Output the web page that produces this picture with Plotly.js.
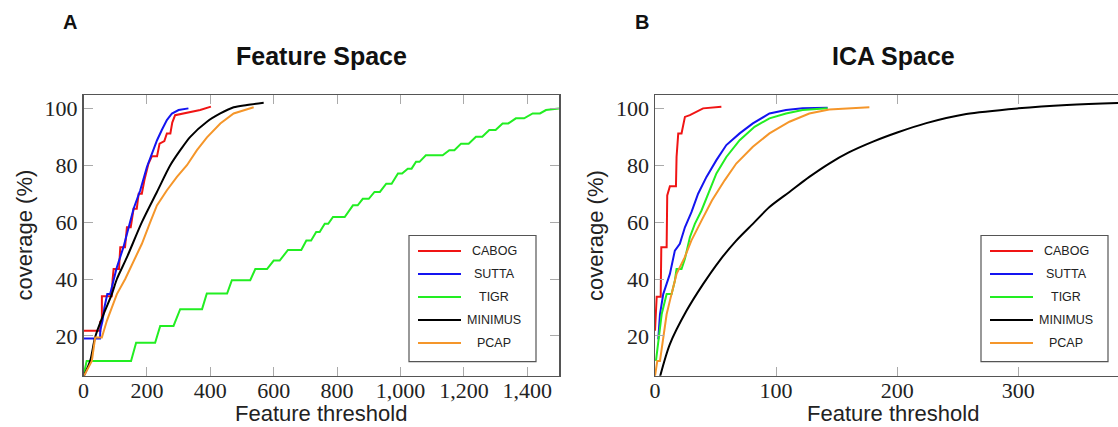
<!DOCTYPE html>
<html><head><meta charset="utf-8">
<script src="https://cdn.plot.ly/plotly-3.0.1.min.js"></script>
<style>html,body{margin:0;padding:0;overflow:hidden;background:#fff}#chart{width:1140px;height:427px}</style>
</head><body><div id="chart"></div>
<script>
// ---------- data ----------
const seriesNames = ['CABOG', 'SUTTA', 'TIGR', 'MINIMUS', 'PCAP'];
const seriesColors = ['#f01414', '#1414f0', '#22ee22', '#000000', '#f5962a'];

// Panel A: Feature Space
const cabogFeatX = [0,53,53,58,58,89,92,95,112,116,131,137,149,158,168,174,184,192,205,216,232,240,255,263,274,280,289,316,368,402];
const cabogFeatY = [21.8,21.8,25,25,33.9,33.9,40,43.5,43.5,51.2,51.2,58.2,58.2,64.7,64.7,70,70,74.7,80.6,83.2,83.2,87.6,88.5,91.2,91.2,95,97.6,98.2,99.4,100.6];
const suttaFeatX = [0,52,53,60,66,75,84,95,105,126,142,158,179,200,216,232,247,263,279,300,331];
const suttaFeatY = [19.1,19.1,22,25.3,30,34.7,34.7,40,44,51.2,58.2,64.7,71.2,79.4,84.1,88.8,92.4,95.9,98.2,99.4,100];
const tigrFeatX = [0,10,150,166,226,242,284,305,374,389,453,468,526,542,579,600,619,645,687,703,718,734,745,761,772,787,824,850,865,881,900,918,935,955,972,992,1005,1023,1035,1049,1060,1080,1133,1154,1170,1191,1215,1238,1258,1280,1300,1322,1340,1364,1390,1417,1440,1459,1500];
const tigrFeatY = [6,11.2,11.2,17.6,17.6,23.5,23.5,29.4,29.4,34.9,34.9,39.6,39.6,43.5,43.5,46.5,46.5,50.2,50.2,53.5,53.5,56.5,56.5,59.4,59.4,61.8,61.8,65.9,65.9,68.2,68.2,70.6,70.6,73.5,73.5,77.1,77.1,78.8,78.8,81.2,81.2,83.5,83.5,85.3,85.3,87.6,87.6,90,90,92.4,92.4,94.7,94.7,96.5,96.5,98.2,98.2,99.4,100];
const minimusFeatX = [0,21,36.8,63.2,89.5,105.3,136.8,184.2,231.6,273.7,305.3,336.8,389.5,431.6,473.7,515.8,568.4];
const minimusFeatY = [5.6,11.2,19.6,27.6,34.7,40,47.6,60,70.6,80,85.3,90,95.3,98.2,100.4,101.2,102];
const pcapFeatX = [0,26.3,36.8,57.9,73.7,89.5,105.3,131.6,157.9,184.2,210.5,231.6,263.2,294.7,326.3,357.9,389.5,431.6,473.7,515.8,536.8];
const pcapFeatY = [5.6,11.2,19.4,19.4,25.3,30,34.7,40,46.5,52.4,60,65.9,71.2,75.9,80,85.3,89.8,94.7,98.2,99.6,100.4];

// Panel B: ICA Space
const cabogIcaX = [0,1.4,4.7,5.2,9.6,10.1,12.3,17.3,17.8,19.2,21.9,23.3,24.7,28.8,34.2,39.7,54.8];
const cabogIcaY = [21.8,33.8,33.8,51.2,51.2,69.4,72.6,72.6,82.9,91.2,91.2,94.1,97,97.6,98.8,100,100.6];
const suttaIcaX = [2.7,4.1,6.8,9.6,12.3,16.4,20.5,24.7,30.1,35.6,42.5,50.7,58.9,69.9,80.8,94.5,108.2,121.9,142.5];
const suttaIcaY = [18.8,27.6,34.7,38.2,41.8,50,52.4,58.2,63.5,70,75.9,81.8,87.1,91.2,94.7,98.2,99.4,100,100.2];
const tigrIcaX = [0.8,2.7,5.5,9.6,13.7,16.4,17.8,21.9,24.7,28.8,32.9,38.4,43.8,50.7,58.9,69.9,82.2,94.5,108.2,121.9,142.5];
const tigrIcaY = [11.2,17.1,27.6,34.7,34.7,39.4,43.5,43.5,47.1,54.7,59.4,64.1,70,77.1,82.9,88.8,93.5,96.5,98.2,99.4,100];
const minimusIcaX = [4.1,12.3,26,39.7,53.4,67.1,80.8,94.5,111,127.4,143.8,160,180,200,224,257,300,340,382,393];
const minimusIcaY = [5.6,17.1,28.8,38.2,46.5,53.5,59.4,65.3,70.6,75.9,80.6,84.5,88.3,91.5,94.8,98,100,101.2,101.9,102];
const pcapIcaX = [0,1.9,4.1,6.8,9.6,12.3,17.8,24.5,30,38.5,47,57.5,67.1,80.8,94.5,111,127.4,143.8,177];
const pcapIcaY = [5.9,11.2,11.2,19.4,27.6,32.4,41.8,47.6,53.5,60.6,67.6,74.7,80.6,86.5,91.2,95.3,98.2,99.6,100.35];

const featXTicks = [0,200,400,600,800,1000,1200,1400];
const featXTickText = ['0','200','400','600','800','1,000','1,200','1,400'];
const icaXTicks = [0,100,200,300];
const yTicks = [20,40,60,80,100];

const panelTitles = ['Feature Space', 'ICA Space'];
const panelLetters = ['A', 'B'];
const xTitle = 'Feature threshold';
const yTitle = 'coverage (%)';

// ---------- layout helpers ----------
const W = 1140, H = 427;
const px = v => v / W;
const py = v => 1 - v / H;
const plotTop = 95, plotBottom = 375.7;
const panels = [{l: 83.5, r: 559}, {l: 655, r: 1131}];

const featSets = [[cabogFeatX,cabogFeatY],[suttaFeatX,suttaFeatY],[tigrFeatX,tigrFeatY],[minimusFeatX,minimusFeatY],[pcapFeatX,pcapFeatY]];
const icaSets = [[cabogIcaX,cabogIcaY],[suttaIcaX,suttaIcaY],[tigrIcaX,tigrIcaY],[minimusIcaX,minimusIcaY],[pcapIcaX,pcapIcaY]];

function lineStyle(i) {
  const l = {color: seriesColors[i], width: 2};
  if (seriesNames[i] === 'MINIMUS') { l.shape = 'spline'; l.smoothing = 0.8; }
  return l;
}
const traces = [];
featSets.forEach((s, i) => traces.push({x: s[0], y: s[1], type: 'scatter', mode: 'lines', name: seriesNames[i],
  line: lineStyle(i), xaxis: 'x', yaxis: 'y', showlegend: false, hoverinfo: 'skip'}));
icaSets.forEach((s, i) => traces.push({x: s[0], y: s[1], type: 'scatter', mode: 'lines', name: seriesNames[i],
  line: lineStyle(i), xaxis: 'x2', yaxis: 'y2', showlegend: false, hoverinfo: 'skip'}));

const axBase = {showgrid: false, zeroline: false, showline: true, linecolor: '#555', linewidth: 1.5,
  mirror: 'ticks', ticks: 'inside', ticklen: 9, tickwidth: 1, tickcolor: '#aaa',
  tickfont: {family: 'Liberation Serif', size: 22, color: '#222'}, fixedrange: true};

const yDom = [py(plotBottom), py(plotTop)];
const layout = {
  width: W, height: H, margin: {l: 0, r: 0, t: 0, b: 0}, paper_bgcolor: '#fff', plot_bgcolor: '#fff',
  showlegend: false,
  xaxis: Object.assign({}, axBase, {domain: [px(panels[0].l), px(panels[0].r)], range: [0, 1500], anchor: 'y',
    tickmode: 'array', tickvals: featXTicks, ticktext: featXTickText, ticklabelstandoff: -6}),
  yaxis: Object.assign({}, axBase, {domain: yDom, range: [6, 104.7], anchor: 'x', tickmode: 'array', tickvals: yTicks}),
  xaxis2: Object.assign({}, axBase, {domain: [px(panels[1].l), px(panels[1].r)], range: [0, 393], anchor: 'y2',
    tickmode: 'array', tickvals: icaXTicks, ticklabelstandoff: -6}),
  yaxis2: Object.assign({}, axBase, {domain: yDom, range: [6, 104.7], anchor: 'x2', tickmode: 'array', tickvals: yTicks}),
  annotations: [], shapes: []
};

const sans = 'Liberation Sans, Arial, sans-serif';
panels.forEach((p, k) => {
  const cx = (p.l + p.r) / 2;
  layout.annotations.push({text: panelTitles[k], xref: 'paper', yref: 'paper', x: px(cx), y: py(56),
    xanchor: 'center', yanchor: 'middle', showarrow: false, font: {family: sans, size: 25, weight: 'bold', color: '#111'}});
  layout.annotations.push({text: panelLetters[k], xref: 'paper', yref: 'paper', x: px(p.l - 13.5), y: py(21.7),
    xanchor: 'center', yanchor: 'middle', showarrow: false, font: {family: sans, size: 20, weight: 'bold', color: '#111'}});
  layout.annotations.push({text: xTitle, xref: 'paper', yref: 'paper', x: px(cx), y: py(413),
    xanchor: 'center', yanchor: 'middle', showarrow: false, font: {family: sans, size: 22, color: '#222'}});
  layout.annotations.push({text: yTitle, xref: 'paper', yref: 'paper', x: px(p.l - 59.5), y: py(235.5), textangle: -90,
    xanchor: 'center', yanchor: 'middle', showarrow: false, font: {family: sans, size: 22, color: '#222'}});
  // legend
  const bl = p.r - 150, br = p.r - 23, bt = 235.5, bb = 361.7;
  layout.shapes.push({type: 'rect', xref: 'paper', yref: 'paper', x0: px(bl), x1: px(br), y0: py(bb), y1: py(bt),
    line: {color: '#555', width: 1.2}, fillcolor: '#fff', layer: 'above'});
  seriesNames.forEach((n, i) => {
    const yy = 251 + i * 23;
    layout.shapes.push({type: 'line', xref: 'paper', yref: 'paper', x0: px(bl + 9), x1: px(bl + 52), y0: py(yy), y1: py(yy),
      line: {color: seriesColors[i], width: 2}, layer: 'above'});
    layout.annotations.push({text: n, xref: 'paper', yref: 'paper', x: px(bl + 85), y: py(yy),
      xanchor: 'center', yanchor: 'middle', showarrow: false, font: {family: sans, size: 12.5, color: '#222'}});
  });
});

Plotly.newPlot('chart', traces, layout, {staticPlot: true, displayModeBar: false});
</script>
</body></html>
